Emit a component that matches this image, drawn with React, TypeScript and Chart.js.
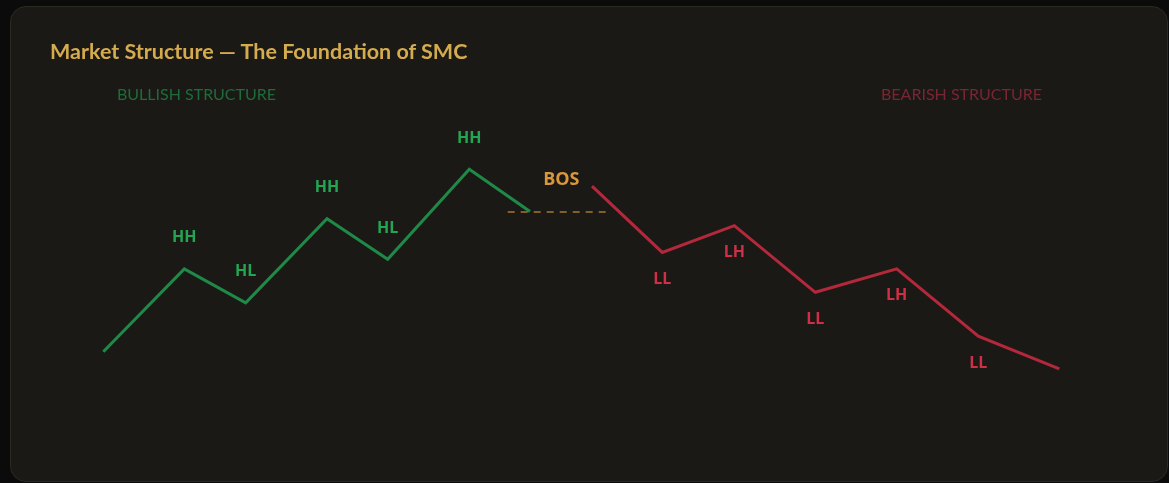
import React, { useEffect, useRef } from "react";
import { Chart, registerables } from "chart.js";

Chart.register(...registerables);

// Bullish leg (time step, price)
const bullishX = [3.93, 12.03, 18.17, 26.3, 32.37, 40.53, 46.6];
const bullishY = [20.1, 47.7, 36.4, 64.4, 50.9, 80.9, 66.8];
const bullishLabels = ["", "HH", "HL", "HH", "HL", "HH", ""];

// Bearish leg
const bearishX = [52.8, 59.83, 67.03, 75.13, 83.27, 91.43, 99.53];
const bearishY = [75.3, 53.2, 62.1, 39.9, 47.7, 25.3, 14.4];
const bearishLabels = ["", "LL", "LH", "LL", "LH", "LL", ""];

// Break of structure level
const bosX = [44.37, 54.5];
const bosY = [66.7, 66.7];
const bosLabel = "BOS";

const titleText = "Market Structure — The Foundation of SMC";
const bullishTitle = "BULLISH STRUCTURE";
const bearishTitle = "BEARISH STRUCTURE";

const GREEN_LINE = "#1f8a47";
const GREEN_TEXT = "#22a653";
const RED_LINE = "#b4283c";
const RED_TEXT = "#cf2f47";
const BOS_COLOR = "#d9973b";

const labelPlugin = {
  id: "structureLabels",
  afterDatasetsDraw(chart: any) {
    const ctx = chart.ctx;
    const xs = chart.scales.x;
    const ys = chart.scales.y;
    ctx.save();
    ctx.textAlign = "center";
    ctx.textBaseline = "middle";
    ctx.font = "bold 16px 'Open Sans', sans-serif";
    ctx.fillStyle = GREEN_TEXT;
    bullishLabels.forEach((t, i) => {
      if (!t) return;
      ctx.fillText(t, xs.getPixelForValue(bullishX[i]), ys.getPixelForValue(bullishY[i]) - 31);
    });
    ctx.fillStyle = RED_TEXT;
    bearishLabels.forEach((t, i) => {
      if (!t) return;
      ctx.fillText(t, xs.getPixelForValue(bearishX[i]), ys.getPixelForValue(bearishY[i]) + 27);
    });
    ctx.font = "bold 18px 'Open Sans', sans-serif";
    ctx.fillStyle = BOS_COLOR;
    const mx = (xs.getPixelForValue(bosX[0]) + xs.getPixelForValue(bosX[1])) / 2;
    ctx.fillText(bosLabel, mx + 3, ys.getPixelForValue(bosY[0]) - 32);
    ctx.restore();
  },
};

export default function App() {
  const ref = useRef<HTMLCanvasElement>(null);

  useEffect(() => {
    document.body.style.background = "#0b0b0b";
    const toPts = (xs: number[], ys: number[]) => xs.map((x, i) => ({ x, y: ys[i] }));
    const chart = new Chart(ref.current!, {
      type: "line",
      data: {
        datasets: [
          {
            data: toPts(bosX, bosY),
            borderColor: "rgba(217,151,59,0.55)",
            borderWidth: 2,
            borderDash: [7, 6],
            pointRadius: 0,
            fill: false,
          },
          {
            data: toPts(bullishX, bullishY),
            borderColor: GREEN_LINE,
            borderWidth: 3,
            pointRadius: 0,
            tension: 0,
            fill: false,
          },
          {
            data: toPts(bearishX, bearishY),
            borderColor: RED_LINE,
            borderWidth: 3,
            pointRadius: 0,
            tension: 0,
            fill: false,
          },
        ],
      },
      options: {
        animation: false,
        responsive: false,
        maintainAspectRatio: false,
        layout: { padding: { left: 53, right: 63, top: 105, bottom: 69 } },
        scales: {
          x: { type: "linear", min: 0, max: 104, display: false },
          y: { type: "linear", min: 0, max: 100, display: false },
        },
        plugins: { legend: { display: false }, tooltip: { enabled: false }, title: { display: false } },
        events: [],
      },
      plugins: [labelPlugin],
    });
    return () => chart.destroy();
  }, []);

  return (
    <div
      style={{
        position: "absolute",
        left: 10,
        top: 6,
        width: 1158,
        height: 476,
        boxSizing: "border-box",
        border: "1px solid #2c2920",
        borderRadius: 16,
        background: "#1b1915",
        overflow: "hidden",
      }}
    >
      <canvas
        ref={ref}
        width={1156}
        height={474}
        style={{ position: "absolute", left: 0, top: 0, width: 1156, height: 474 }}
      />
      <div
        style={{
          position: "absolute",
          left: 39,
          top: 31,
          fontFamily: "Lato, sans-serif",
          fontWeight: 700,
          fontSize: 21.5,
          color: "#d4ab4e",
          whiteSpace: "nowrap",
          lineHeight: "26px",
        }}
      >
        {titleText}
      </div>
      <div
        style={{
          position: "absolute",
          left: 106,
          top: 77,
          fontFamily: "Lato, sans-serif",
          fontSize: 16,
          color: "#1e6c39",
          whiteSpace: "nowrap",
          lineHeight: "20px",
        }}
      >
        {bullishTitle}
      </div>
      <div
        style={{
          position: "absolute",
          left: 870,
          top: 77,
          fontFamily: "Lato, sans-serif",
          fontSize: 16,
          color: "#7a2532",
          whiteSpace: "nowrap",
          lineHeight: "20px",
        }}
      >
        {bearishTitle}
      </div>
    </div>
  );
}
